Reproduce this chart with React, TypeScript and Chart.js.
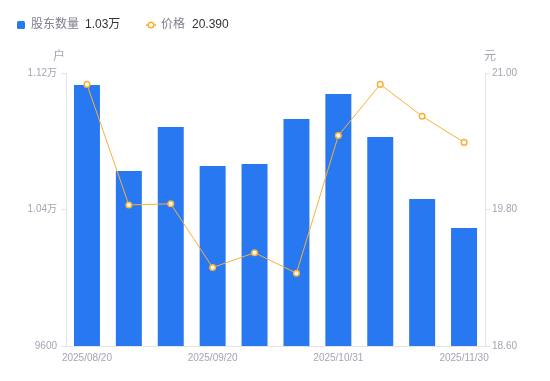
import React, { useEffect, useRef } from "react";
import { Chart, registerables } from "chart.js";

Chart.register(...registerables);

const categories = [
  "2025/08/20", "2025/08/31", "2025/09/10", "2025/09/20", "2025/09/30",
  "2025/10/20", "2025/10/31", "2025/11/10", "2025/11/20", "2025/11/30",
];
const holders = [11130, 10626, 10883, 10655, 10667, 10930, 11077, 10825, 10461, 10292];
const prices = [20.9, 19.84, 19.85, 19.29, 19.42, 19.24, 20.45, 20.9, 20.62, 20.39];
const leftTicks = [9600, 10400, 11200];
const rightTicks = [18.6, 19.8, 21.0];
const shownLabelIdx = [0, 3, 6, 9];
const legendHolders = "1.03万";
const legendPrice = "20.390";

const FONT = "'Liberation Sans', 'Noto Sans CJK SC', sans-serif";
const BLUE = "#2878f2";
const ORANGE = "#f8b035";
const AXIS_TEXT = "#a3a5b3";
const AXIS_LINE = "#e3e4e8";

const overlayPlugin = {
  id: "overlay",
  afterDraw(chart: any) {
    const ctx = chart.ctx;
    ctx.save();
    ctx.textBaseline = "middle";
    ctx.font = `12px ${FONT}`;
    // legend 1
    ctx.fillStyle = BLUE;
    ctx.beginPath();
    (ctx as any).roundRect ? (ctx as any).roundRect(17, 21, 8, 8, 1.5) : ctx.rect(17, 21, 8, 8);
    ctx.fill();
    ctx.fillStyle = "#7c7e8c";
    ctx.textAlign = "left";
    ctx.fillText("股东数量", 31, 25);
    ctx.fillStyle = "#333333";
    ctx.fillText(legendHolders, 85, 25);
    // legend 2
    ctx.strokeStyle = ORANGE;
    ctx.lineWidth = 1.5;
    ctx.beginPath();
    ctx.moveTo(146, 25);
    ctx.lineTo(156, 25);
    ctx.stroke();
    ctx.beginPath();
    ctx.arc(151, 25, 2.8, 0, Math.PI * 2);
    ctx.fillStyle = "#fff";
    ctx.fill();
    ctx.stroke();
    ctx.fillStyle = "#7c7e8c";
    ctx.fillText("价格", 161, 25);
    ctx.fillStyle = "#333333";
    ctx.fillText(legendPrice, 192, 25);
    // axis titles
    ctx.fillStyle = AXIS_TEXT;
    ctx.textAlign = "center";
    ctx.fillText("户", 59, 57);
    ctx.fillText("元", 490, 57);
    ctx.restore();
  },
};

export default function App() {
  const ref = useRef<HTMLCanvasElement>(null);
  useEffect(() => {
    document.body.style.margin = "0";
    const chart = new Chart(ref.current!, {
      data: {
        labels: categories,
        datasets: [
          {
            type: "line",
            label: "价格",
            data: prices,
            yAxisID: "y1",
            borderColor: ORANGE,
            borderWidth: 1,
            pointRadius: 2.8,
            pointBorderWidth: 1.5,
            pointBackgroundColor: "#ffffff",
            pointBorderColor: ORANGE,
            tension: 0,
            order: 0,
          } as any,
          {
            type: "bar",
            label: "股东数量",
            data: holders,
            yAxisID: "y",
            backgroundColor: BLUE,
            categoryPercentage: 1,
            barPercentage: 0.62,
            order: 1,
          } as any,
        ],
      },
      options: {
        animation: false,
        responsive: false,
        layout: { padding: { top: 73, left: 0, right: 0, bottom: 0 } },
        plugins: { legend: { display: false }, tooltip: { enabled: false } },
        scales: {
          x: {
            grid: { display: true, drawOnChartArea: false, drawTicks: false, color: AXIS_LINE },
            border: { display: true, color: AXIS_LINE },
            ticks: {
              autoSkip: false,
              maxRotation: 0,
              padding: 6,
              color: AXIS_TEXT,
              font: { size: 10, family: FONT },
              callback: (_v: any, i: number) => (shownLabelIdx.includes(i) ? categories[i] : ""),
            },
            afterFit: (s: any) => { s.height = 35; },
          },
          y: {
            position: "left",
            min: 9600,
            max: 11200,
            afterBuildTicks: (s: any) => { s.ticks = leftTicks.map((v) => ({ value: v })); },
            grid: { display: true, drawOnChartArea: false, tickLength: 5, color: AXIS_LINE },
            border: { display: true, color: AXIS_LINE },
            ticks: {
              padding: 4,
              color: AXIS_TEXT,
              font: { size: 10, family: FONT },
              callback: (v: any) => (v >= 10000 ? (v / 10000).toFixed(2) + "万" : String(v)),
            },
            afterFit: (s: any) => { s.width = 66; },
          },
          y1: {
            position: "right",
            min: 18.6,
            max: 21.0,
            afterBuildTicks: (s: any) => { s.ticks = rightTicks.map((v) => ({ value: v })); },
            grid: { display: true, drawOnChartArea: false, tickLength: 5, color: AXIS_LINE },
            border: { display: true, color: AXIS_LINE },
            ticks: {
              padding: 2,
              color: AXIS_TEXT,
              font: { size: 10, family: FONT },
              callback: (v: any) => Number(v).toFixed(2),
            },
            afterFit: (s: any) => { s.width = 65; },
          },
        },
      },
      plugins: [overlayPlugin],
    } as any);
    return () => chart.destroy();
  }, []);
  return <canvas ref={ref} width={550} height={381} style={{ display: "block" }} />;
}
